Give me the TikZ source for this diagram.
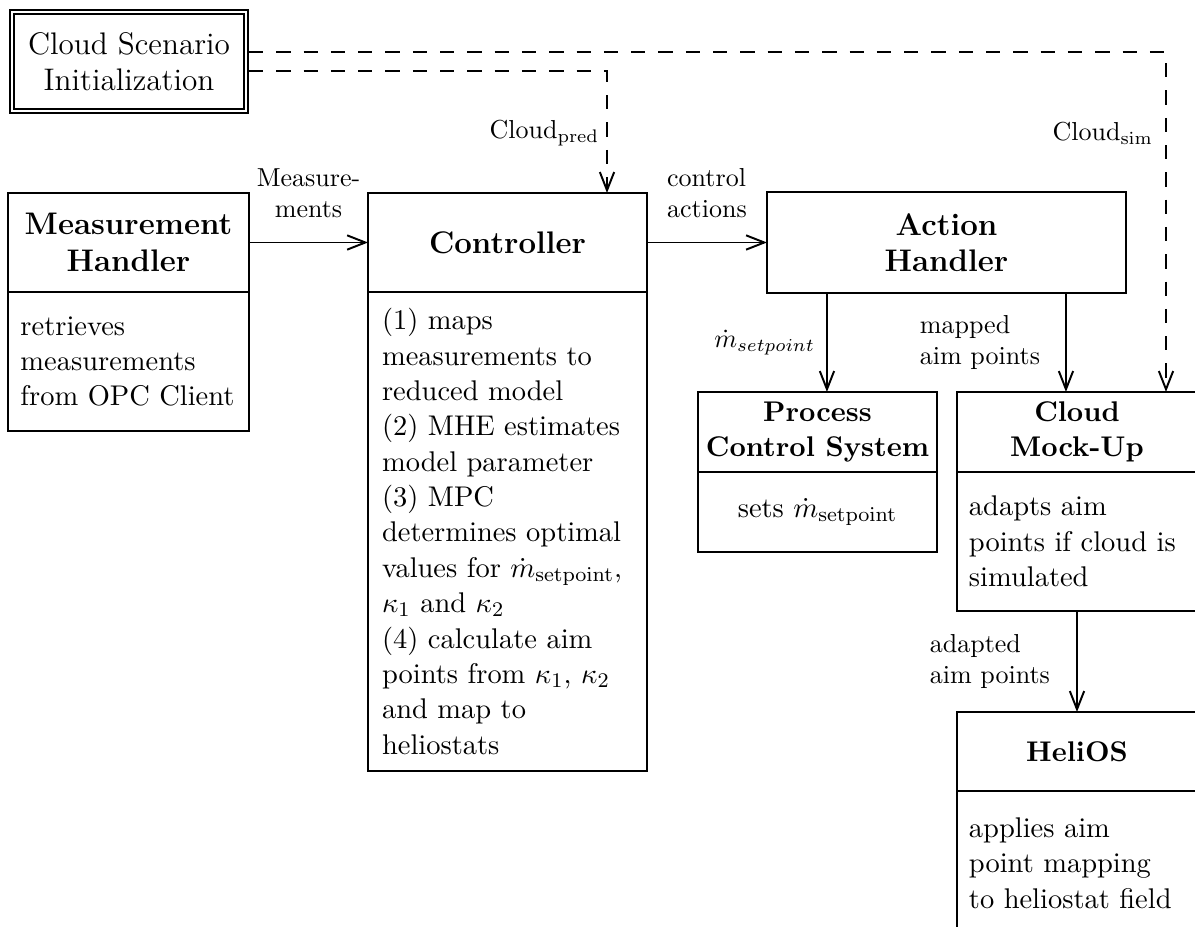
\documentclass[11pt,tikz,border=0pt]{standalone}
\usetikzlibrary{arrows.meta}
\begin{document}
\begin{tikzpicture}[x=0.38462pt, y=-0.38462pt,
  every node/.style={outer sep=0pt},
  box/.style={draw, line width=0.75pt, inner sep=0pt},
  ttl/.style={box, align=center, font=\large\bfseries},
  ttls/.style={box, align=center, font=\bfseries},
  bdy/.style={box, align=left, inner ysep=0pt, font=\normalsize},
  arr/.style={line width=0.75pt, -{Straight Barb[length=7pt,width=5.5pt]}},
  dsh/.style={arr, dash pattern=on 5.5pt off 5pt},
  lbl/.style={font=\small, inner sep=2pt}
]
\useasboundingbox (0,0) rectangle (1195,927);
\clip (0,0) rectangle (1195,927);

% boxes
\node[draw, double, line width=0.6pt, double distance=1.1pt, outer sep=1.15pt,
      minimum width=90pt, minimum height=38.1pt, align=center, font=\large, inner sep=0pt]
      (csi) at (129,61.5) {Cloud Scenario\\Initialization};

\node[ttl, minimum width=92.7pt, minimum height=38.1pt] (mh) at (128.5,242.5) {Measurement\\Handler};
\node[bdy, anchor=north, text width=83.1pt, inner xsep=4.8pt, minimum height=53.5pt] (mhb) at (mh.south)
  {retrieves\\measurements\\from OPC Client};

\node[ttl, minimum width=107.3pt, minimum height=38.1pt] (ctrl) at (507.5,242.5) {Controller};
\node[bdy, anchor=north, text width=96.5pt, inner xsep=5.4pt, minimum height=184.2pt] (ctrlb) at (ctrl.south)
  {(1) maps\\measurements to\\reduced model\\(2) MHE estimates\\model parameter\\(3) MPC\\determines optimal\\values for $\dot{m}_{\mathrm{setpoint}}$,\\$\kappa_1$ and $\kappa_2$\\(4) calculate aim\\points from $\kappa_1$, $\kappa_2$\\and map to\\heliostats};

\node[ttl, minimum width=138.1pt, minimum height=38.5pt] (ah) at (946.5,242.5) {Action\\Handler};

\node[ttls, minimum width=91.9pt, minimum height=30.8pt] (pcs) at (817.5,432) {Process\\Control System};
\node[box, anchor=north, align=center, minimum width=91.9pt, minimum height=30.8pt] (pcsb) at (pcs.south)
  {sets $\dot{m}_{\mathrm{setpoint}}$};

\node[ttls, minimum width=92.3pt, minimum height=30.8pt] (cmu) at (1077,432) {Cloud\\Mock-Up};
\node[bdy, anchor=north, text width=83.1pt, inner xsep=4.6pt, minimum height=53.5pt] (cmub) at (cmu.south)
  {adapts aim\\points if cloud is\\simulated};

\node[ttls, minimum width=92.3pt, minimum height=30.4pt] (hel) at (1077,751.5) {HeliOS};
\node[bdy, anchor=north, text width=83.1pt, inner xsep=4.6pt, minimum height=55.4pt] (helb) at (hel.south)
  {applies aim\\point mapping\\to heliostat field};

% helper coordinates
\path (ah.south west) ++(60,0) coordinate (ahp);
\path (ah.south west) ++(299,0) coordinate (ahq);
\path (ctrl.north west) ++(239,0) coordinate (ctp);
\path (cmu.north west) ++(209,0) coordinate (cmp);

% connectors
\draw[arr] (mh.east) -- node[lbl, above=7.5pt, align=center] {Measure-\\ments} (ctrl.west);
\draw[arr] (ctrl.east) -- node[lbl, above=7.5pt, align=left] {control\\actions} (ah.west);
\draw[arr] (ahp) -- node[lbl, left=2.6pt] {$\dot{m}_{setpoint}$} (ahp |- pcs.north);
\draw[arr] (ahq) -- node[lbl, left=8pt, align=left] {mapped\\aim points} (ahq |- cmu.north);
\draw[arr] (cmub.south) -- node[lbl, left=8.4pt, align=left] {adapted\\aim points} (hel.north);

\draw[dsh] ([yshift=-3.65pt]csi.east) -| node[lbl, pos=0.754, left=1pt] {Cloud$_{\mathrm{pred}}$} (ctp);
\draw[dsh] ([yshift=3.65pt]csi.east) -| node[lbl, pos=0.619, left=3pt] {Cloud$_{\mathrm{sim}}$} (cmp);
\end{tikzpicture}
\end{document}
